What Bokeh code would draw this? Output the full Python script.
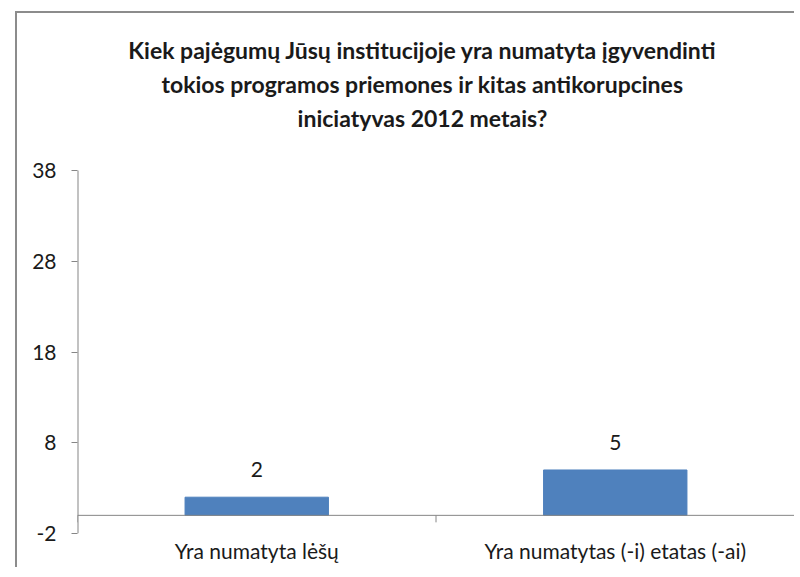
from bokeh.plotting import figure
from bokeh.models import (ColumnDataSource, Range1d, FixedTicker, LabelSet, Label, Span)
from bokeh.core.properties import value
from bokeh.embed import file_html
from bokeh.resources import INLINE

# ---- data ----
categories = ["Yra numatyta lėšų", "Yra numatytas (-i) etatas (-ai)"]
counts = [2, 5]
y_ticks = [-2, 8, 18, 28, 38]
title_lines = [
    "Kiek pajėgumų Jūsų institucijoje yra numatyta įgyvendinti",
    "tokios programos priemones ir kitas antikorupcines",
    "iniciatyvas 2012 metais?",
]

FONT = "Lato"
BAR_COLOR = "#4F81BD"
AXIS_COLOR = "#868686"
TEXT_COLOR = "#1a1a1a"

# ---- layout constants (pixels) ----
PLOT_H = 363          # height of the -2..38 value area
TITLE_SPACE = 157     # space above the value area for the title
FRAME_W = 717
px_per_unit = PLOT_H / (y_ticks[-1] - y_ticks[0])
y_top = y_ticks[-1] + TITLE_SPACE / px_per_unit

positions = [i + 0.5 for i in range(len(categories))]
source = ColumnDataSource(dict(x=positions, top=counts, label=[str(c) for c in counts]))

p = figure(
    x_range=Range1d(0, len(categories)),
    y_range=Range1d(y_ticks[0], y_top),
    frame_width=FRAME_W, frame_height=PLOT_H + TITLE_SPACE,
    min_border_left=60, min_border_top=0, min_border_right=0, min_border_bottom=34,
    output_backend="svg", toolbar_location=None,
)
p.margin = (11, 0, 0, 15)
p.styles = {"border-left": "2px solid #8c8c8c", "border-top": "2px solid #8c8c8c"}

p.outline_line_color = None
p.xgrid.grid_line_color = None
p.ygrid.grid_line_color = None
p.background_fill_color = "white"
p.border_fill_color = "white"

# bars
p.vbar(x="x", top="top", bottom=0, width=0.4, source=source,
       fill_color=BAR_COLOR, line_color=BAR_COLOR)

# y axis line (only over the value span)
p.segment(x0=[0], x1=[0], y0=[y_ticks[0]], y1=[y_ticks[-1]],
          line_color=AXIS_COLOR, line_width=2)

# zero line with category boundary ticks
p.add_layout(Span(location=0, dimension="width", line_color=AXIS_COLOR, line_width=1))
bounds = list(range(len(categories) + 1))
p.segment(x0=bounds, x1=bounds, y0=[0] * len(bounds), y1=[-7 / px_per_unit] * len(bounds),
          line_color=AXIS_COLOR, line_width=1)

# value labels
p.add_layout(LabelSet(x="x", y="top", text="label", source=source,
                      text_align="center", text_baseline="bottom", y_offset=20,
                      text_font=value(FONT), text_font_size="21px", text_color=TEXT_COLOR))

# y axis
yax = p.yaxis[0]
yax.ticker = FixedTicker(ticks=y_ticks)
yax.major_label_overrides = {t: str(t) for t in y_ticks}
yax.axis_line_color = None
yax.major_tick_line_color = AXIS_COLOR
yax.major_tick_out = 6
yax.major_tick_in = 0
yax.minor_tick_line_color = None
yax.major_label_standoff = 15
yax.major_label_text_font = FONT
yax.major_label_text_font_size = "21px"
yax.major_label_text_color = TEXT_COLOR

# x axis (labels only)
xax = p.xaxis[0]
xax.ticker = FixedTicker(ticks=positions)
xax.major_label_overrides = {pos: cat for pos, cat in zip(positions, categories)}
xax.axis_line_color = None
xax.major_tick_line_color = None
xax.minor_tick_line_color = None
xax.major_tick_out = 0
xax.major_tick_in = 0
xax.major_label_standoff = 4
xax.major_label_text_font = FONT
xax.major_label_text_font_size = "21px"
xax.major_label_text_color = TEXT_COLOR

# title (three centred lines), placed by pixel offset from the top of the figure
TITLE_CENTER_PX = 345          # from left edge of value area
TITLE_LINE_PX = [36, 70, 104]  # from top of figure
for line, py in zip(title_lines, TITLE_LINE_PX):
    p.add_layout(Label(x=TITLE_CENTER_PX / (FRAME_W / len(categories)),
                       y=y_top - py / px_per_unit, text=line, text_align="center",
                       text_baseline="middle", text_font=FONT,
                       text_font_style="bold", text_font_size="23px",
                       text_color=TEXT_COLOR))

open("out.html", "w").write(file_html(p, INLINE))
